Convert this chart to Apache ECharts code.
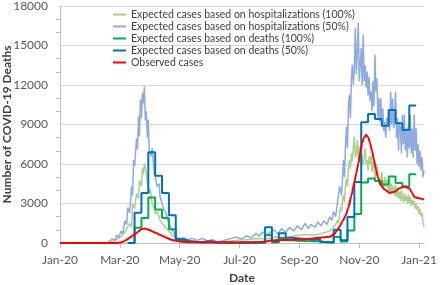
<!DOCTYPE html>
<html>
<head>
<meta charset="utf-8">
<script src="https://cdn.jsdelivr.net/npm/echarts@6/dist/echarts.min.js"></script>
<style>
  html, body { margin: 0; padding: 0; background: #fff; }
  #chart { width: 440px; height: 285px; }
</style>
</head>
<body>
<div id="chart"></div>
<script>
// x values are days since 1 Jan 2020
const monthTicks = { 0: "Jan-20", 61: "Mar-20", 122: "May-20", 183: "Jul-20", 244: "Sep-20", 305: "Nov-20", 366: "Jan-21" };

// expected cases from hospitalizations, [day, cases]
const hosp50 = [
  [23, 0], [48, 0], [50, 100], [53, 300], [56, 200], [58, 600], [60, 400], [62, 900], [64, 700],
  [66, 1700], [68, 1400], [69, 2700], [71, 2300], [73, 4300], [74, 3600], [75, 6300], [76, 5800],
  [78, 7950], [79, 7100], [80, 9600], [81, 8100], [82, 10900], [83, 9500], [84, 11400], [85, 10600],
  [86, 11900], [87, 9300], [88, 10000], [89, 8000], [90, 9350], [91, 7000], [93, 6600], [94, 7200],
  [96, 5300], [97, 5000], [99, 4300], [101, 4500], [102, 3500], [104, 3400], [106, 2500], [108, 2300],
  [110, 1700], [112, 1300], [114, 1000], [116, 800], [118, 450], [120, 500], [123, 300], [126, 400],
  [130, 250], [135, 350], [140, 200], [145, 350], [150, 150], [155, 250], [160, 100], [165, 150],
  [170, 250], [175, 350], [180, 450], [185, 300], [190, 550], [195, 400], [200, 750], [203, 500],
  [206, 850], [210, 600], [214, 800], [218, 1000], [222, 700], [226, 1100], [230, 800], [234, 1200],
  [238, 900], [242, 1300], [246, 1000], [250, 1500], [253, 1100], [256, 1400], [260, 1200], [263, 1600],
  [266, 1300], [269, 1700], [272, 1400], [275, 2000], [277, 1700], [279, 2400], [281, 2000], [283, 3200],
  [285, 4300], [287, 3600], [289, 6300], [290, 5000], [291, 7500], [292, 8840], [293, 7200], [294, 10500],
  [295, 11250], [296, 9500], [297, 12500], [298, 13540], [299, 12000], [300, 13290], [301, 16340],
  [302, 12800], [303, 14500], [304, 16720], [305, 12270], [306, 13500], [307, 14810], [308, 12000],
  [309, 15830], [310, 12270], [311, 13500], [312, 11800], [313, 13030], [314, 11200], [315, 12650],
  [316, 10800], [317, 11500], [318, 10000], [319, 12270], [320, 10360], [321, 14300], [322, 11500],
  [323, 12500], [324, 9500], [325, 11000], [326, 9220], [327, 11000], [328, 8840], [329, 10240],
  [330, 8500], [331, 9220], [332, 8000], [333, 9500], [334, 8970], [335, 10000], [336, 8500],
  [337, 11500], [338, 9000], [339, 11000], [340, 8710], [341, 9600], [342, 11500], [343, 8000],
  [344, 9500], [345, 7000], [346, 9200], [347, 8710], [348, 6800], [349, 9730], [350, 7500],
  [351, 9730], [352, 7000], [353, 8710], [354, 6500], [355, 8970], [356, 7200], [357, 9730],
  [358, 6800], [359, 8700], [360, 6500], [361, 9730], [362, 7000], [363, 8710], [364, 6000],
  [365, 7500], [366, 5800], [367, 7000], [368, 5500], [369, 6500], [370, 5000], [371, 5500]
];
const hosp100 = [
  [23, 0], [48, 0], [50, 50], [55, 150], [58, 300], [62, 450], [66, 820], [68, 700], [71, 1500],
  [73, 1200], [74, 3000], [76, 2600], [78, 3750], [80, 3400], [81, 4770], [83, 4300], [84, 5660],
  [85, 5200], [86, 6040], [88, 5280], [89, 4600], [91, 3750], [92, 4100], [94, 3000], [96, 2700],
  [97, 2230], [99, 2400], [102, 1720], [104, 1800], [107, 1200], [110, 1000], [112, 820], [114, 600],
  [117, 440], [122, 200], [130, 150], [140, 100], [150, 80], [160, 50], [170, 120], [180, 200],
  [190, 250], [200, 350], [210, 300], [220, 450], [230, 400], [240, 550], [250, 650], [260, 600],
  [270, 800], [275, 900], [280, 1300], [283, 1720], [284, 1500], [285, 2200], [286, 2730], [287, 2400],
  [288, 3300], [289, 3620], [290, 3100], [291, 4400], [292, 4900], [293, 4300], [294, 5800], [295, 6300],
  [296, 5600], [297, 6800], [298, 6200], [299, 7310], [300, 8080], [301, 6500], [302, 6800], [303, 7820],
  [304, 6400], [305, 7310], [306, 6100], [307, 6800], [308, 6930], [309, 5900], [310, 6550], [311, 7200],
  [312, 6000], [313, 6300], [314, 5500], [315, 6550], [316, 6000], [317, 6680], [318, 5400], [319, 6200],
  [320, 5790], [321, 4900], [322, 5280], [323, 6000], [324, 5000], [325, 5150], [326, 4400], [327, 4770],
  [328, 5400], [329, 4520], [330, 4100], [331, 5020], [332, 4300], [333, 4800], [334, 4260], [335, 3800],
  [336, 4900], [337, 3700], [338, 4500], [339, 3800], [340, 4300], [341, 3600], [342, 4400], [343, 3500],
  [344, 4200], [345, 3400], [346, 3900], [347, 3200], [348, 4000], [349, 3400], [350, 3100], [351, 3800],
  [352, 3200], [353, 3600], [354, 3000], [355, 3700], [356, 3000], [357, 3500], [358, 2800], [359, 3300],
  [360, 2900], [361, 3200], [362, 2600], [363, 3000], [364, 2500], [365, 2800], [366, 2200], [367, 2600],
  [368, 2000], [369, 2300], [370, 1600], [371, 1200]
];

// expected cases from deaths, weekly steps starting on these days
const deathWeeks = [69, 76, 83, 90, 97, 104, 111, 118, 125, 132, 139, 146, 153, 160, 167, 174, 181, 188,
  195, 202, 209, 216, 223, 230, 237, 244, 251, 258, 265, 272, 279, 286, 293, 300, 307, 314, 321, 328,
  335, 342, 349, 356, 363];
const deaths100 = [0, 1150, 1900, 3450, 2550, 1900, 1050, 200, 80, 50, 40, 100, 30, 15, 15, 10, 25, 15,
  20, 15, 600, 50, 380, 200, 180, 150, 130, 150, 40, 30, 450, 120, 950, 2200, 4600, 4900, 4710, 4450,
  5050, 4550, 4290, 5220, 5220];
const deaths50 = [0, 2300, 3800, 6900, 5100, 3800, 2100, 300, 150, 100, 80, 150, 60, 30, 30, 20, 50, 30,
  40, 30, 1200, 100, 750, 400, 350, 300, 250, 300, 80, 60, 1000, 200, 1970, 4640, 9180, 9800, 9420, 8910,
  10100, 9100, 8580, 10440, 10440];

// observed cases, [day, cases]
const observed = [
  [0, 0], [58, 0], [62, 40], [65, 120], [68, 250], [71, 400], [74, 560], [77, 700], [80, 880], [83, 1050],
  [86, 1100], [89, 1050], [92, 960], [95, 860], [98, 760], [101, 650], [104, 560], [107, 460], [110, 350],
  [113, 260], [116, 200], [120, 150], [124, 90], [130, 60], [140, 50], [160, 40], [180, 40], [200, 50],
  [210, 120], [215, 190], [225, 220], [240, 260], [250, 290], [260, 360], [268, 420], [275, 480],
  [279, 650], [282, 900], [285, 1250], [288, 1650], [291, 2050], [294, 2700], [297, 3600], [300, 4600],
  [302, 5300], [304, 6000], [306, 6900], [308, 7600], [310, 8050], [312, 8200], [314, 8050], [316, 7600],
  [318, 7000], [320, 6300], [322, 5600], [324, 5000], [327, 4400], [331, 4050], [336, 3800], [341, 3900],
  [346, 4150], [351, 4300], [356, 4150], [359, 3800], [361, 3500], [365, 3420], [371, 3300]
];

const font = "Lato, 'Open Sans', sans-serif";
const chart = echarts.init(document.getElementById("chart"));

const lineSeries = (name, data, color, width, extra) => Object.assign({
  name, type: "line", data, showSymbol: false, symbol: "none",
  lineStyle: { color, width }, itemStyle: { color }
}, extra || {});

chart.setOption({
  animation: false,
  textStyle: { fontFamily: font },
  grid: { left: 60, right: 16, top: 6, bottom: 42, outerBoundsMode: "none" },
  legend: {
    orient: "vertical", left: 108, top: 4, itemGap: 1,
    icon: "rect", itemWidth: 13, itemHeight: 2,
    textStyle: { fontSize: 10.5, color: "#404040", fontFamily: font },
    data: [
      "Expected cases based on hospitalizations (100%)",
      "Expected cases based on hospitalizations (50%)",
      "Expected cases based on deaths (100%)",
      "Expected cases based on deaths (50%)",
      "Observed cases"
    ]
  },
  xAxis: {
    type: "value", min: 0, max: 371, interval: 61,
    name: "Date", nameLocation: "middle", nameGap: 29, nameMoveOverlap: false,
    nameTextStyle: { fontSize: 12, fontWeight: "bold", color: "#404040", fontFamily: font },
    axisLine: { show: true, lineStyle: { color: "#bfbfbf" } },
    axisTick: { show: true, length: 5, lineStyle: { color: "#bfbfbf" } },
    axisLabel: {
      fontSize: 12, color: "#595959", margin: 11, showMaxLabel: false, showMinLabel: true,
      align: "center", alignMinLabel: "center", alignMaxLabel: "center",
      formatter: v => monthTicks[v] || ""
    },
    splitLine: { show: false }
  },
  yAxis: {
    type: "value", min: 0, max: 18000, interval: 3000,
    name: "Number of COVID-19 Deaths", nameLocation: "middle", nameGap: 47, nameMoveOverlap: false,
    nameTextStyle: { fontSize: 12, fontWeight: "bold", color: "#404040", fontFamily: font },
    axisLine: { show: true, lineStyle: { color: "#bfbfbf" } },
    axisTick: { show: false },
    minorTick: { show: true, splitNumber: 3, length: 4, lineStyle: { color: "#bfbfbf" } },
    axisLabel: { fontSize: 12, color: "#595959", margin: 12, formatter: v => String(v) },
    splitLine: { lineStyle: { color: "#d9d9d9", width: 1 } }
  },
  series: [
    lineSeries("Expected cases based on hospitalizations (100%)", hosp100, "#a9d18e", 1.5),
    lineSeries("Expected cases based on hospitalizations (50%)", hosp50, "#8faadc", 1.5),
    lineSeries("Expected cases based on deaths (100%)", deathWeeks.map((d, i) => [d, deaths100[i]]), "#00b050", 2, { step: "end" }),
    lineSeries("Expected cases based on deaths (50%)", deathWeeks.map((d, i) => [d, deaths50[i]]), "#0070c0", 2, { step: "end" }),
    lineSeries("Observed cases", observed, "#ff0000", 2, { smooth: 0.2, smoothMonotone: "x" })
  ]
});
</script>
</body>
</html>
